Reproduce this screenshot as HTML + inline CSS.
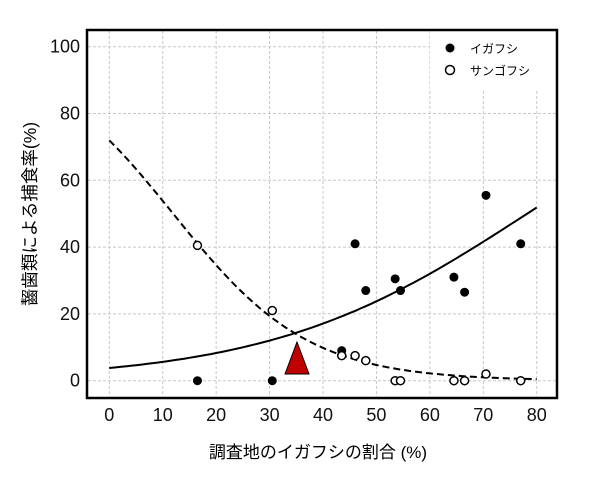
<!DOCTYPE html>
<html><head><meta charset="utf-8"><style>
body{margin:0;background:#fff;}
svg text{font-family:"Liberation Sans","Noto Sans CJK JP",sans-serif;}
</style></head><body>
<svg id="s" width="600" height="480" viewBox="0 0 600 480" xmlns="http://www.w3.org/2000/svg">
<rect width="600" height="480" fill="#fff"/>
<g id="grid" stroke="#c8c8c8" stroke-width="1" stroke-dasharray="3,2"></g>
<rect x="430" y="31" width="126" height="58" fill="#fff"/>
<path id="solid" fill="none" stroke="#000" stroke-width="2"/>
<path id="dash" fill="none" stroke="#000" stroke-width="2" stroke-dasharray="7,4"/>
<polygon points="297,342 285,374 309,374" fill="#c00000" stroke="#000" stroke-width="1"/>
<g id="pts"></g>
<rect x="87" y="30" width="470" height="368" fill="none" stroke="#000" stroke-width="2.5"/>
<g id="ticks" font-size="18" fill="#111"></g>
<circle cx="450" cy="48" r="4.5" fill="#000"/>
<text x="470" y="53" font-size="12">イガフシ</text>
<circle cx="450" cy="70" r="4.5" fill="#fff" stroke="#000" stroke-width="1.5"/>
<text x="470" y="75" font-size="12">サンゴフシ</text>
<text x="318" y="458" font-size="17" text-anchor="middle">調査地のイガフシの割合 (%)</text>
<text transform="translate(36,214) rotate(-90)" font-size="17.5" text-anchor="middle">齧歯類による捕食率(%)</text>
</svg>
<script>
var X=function(v){return 109.3+v*5.343},Y=function(v){return 380.7-v*3.34};
var ns="http://www.w3.org/2000/svg";
function el(p,t,a,txt){var e=document.createElementNS(ns,t);for(var k in a)e.setAttribute(k,a[k]);if(txt!=null)e.textContent=txt;document.getElementById(p).appendChild(e);}
for(var v=0;v<=80;v+=10){el('grid','line',{x1:X(v),x2:X(v),y1:31,y2:397});el('ticks','text',{x:X(v),y:421,'text-anchor':'middle'},String(v));}
for(var v=0;v<=100;v+=20){el('grid','line',{x1:88,x2:556,y1:Y(v),y2:Y(v)});el('ticks','text',{x:80,y:Y(v)+6,'text-anchor':'end'},String(v));}
function lg(a,b,x){return 100/(1+Math.exp(-(a+b*x)));}
var s='',d='';
for(var x=0;x<=80;x+=1){s+=(x?'L':'M')+X(x).toFixed(1)+' '+Y(lg(-3.23,0.0413,x)).toFixed(1);d+=(x?'L':'M')+X(x).toFixed(1)+' '+Y(lg(0.944,-0.079,x)).toFixed(1);}
document.getElementById('solid').setAttribute('d',s);document.getElementById('dash').setAttribute('d',d);
var f=[[16.5,0],[30.5,0],[43.5,9],[46,41],[48,27],[53.5,30.5],[54.5,27],[64.5,31],[66.5,26.5],[70.5,55.5],[77,41]];
var o=[[16.5,40.5],[30.5,21],[43.5,7.5],[46,7.5],[48,6],[53.5,0],[54.5,0],[64.5,0],[66.5,0],[70.5,2],[77,0]];
f.forEach(function(p){el('pts','circle',{cx:X(p[0]),cy:Y(p[1]),r:4.5,fill:'#000'});});
o.forEach(function(p){el('pts','circle',{cx:X(p[0]),cy:Y(p[1]),r:4,fill:'#fff',stroke:'#000','stroke-width':1.5});});
</script>
</body></html>
